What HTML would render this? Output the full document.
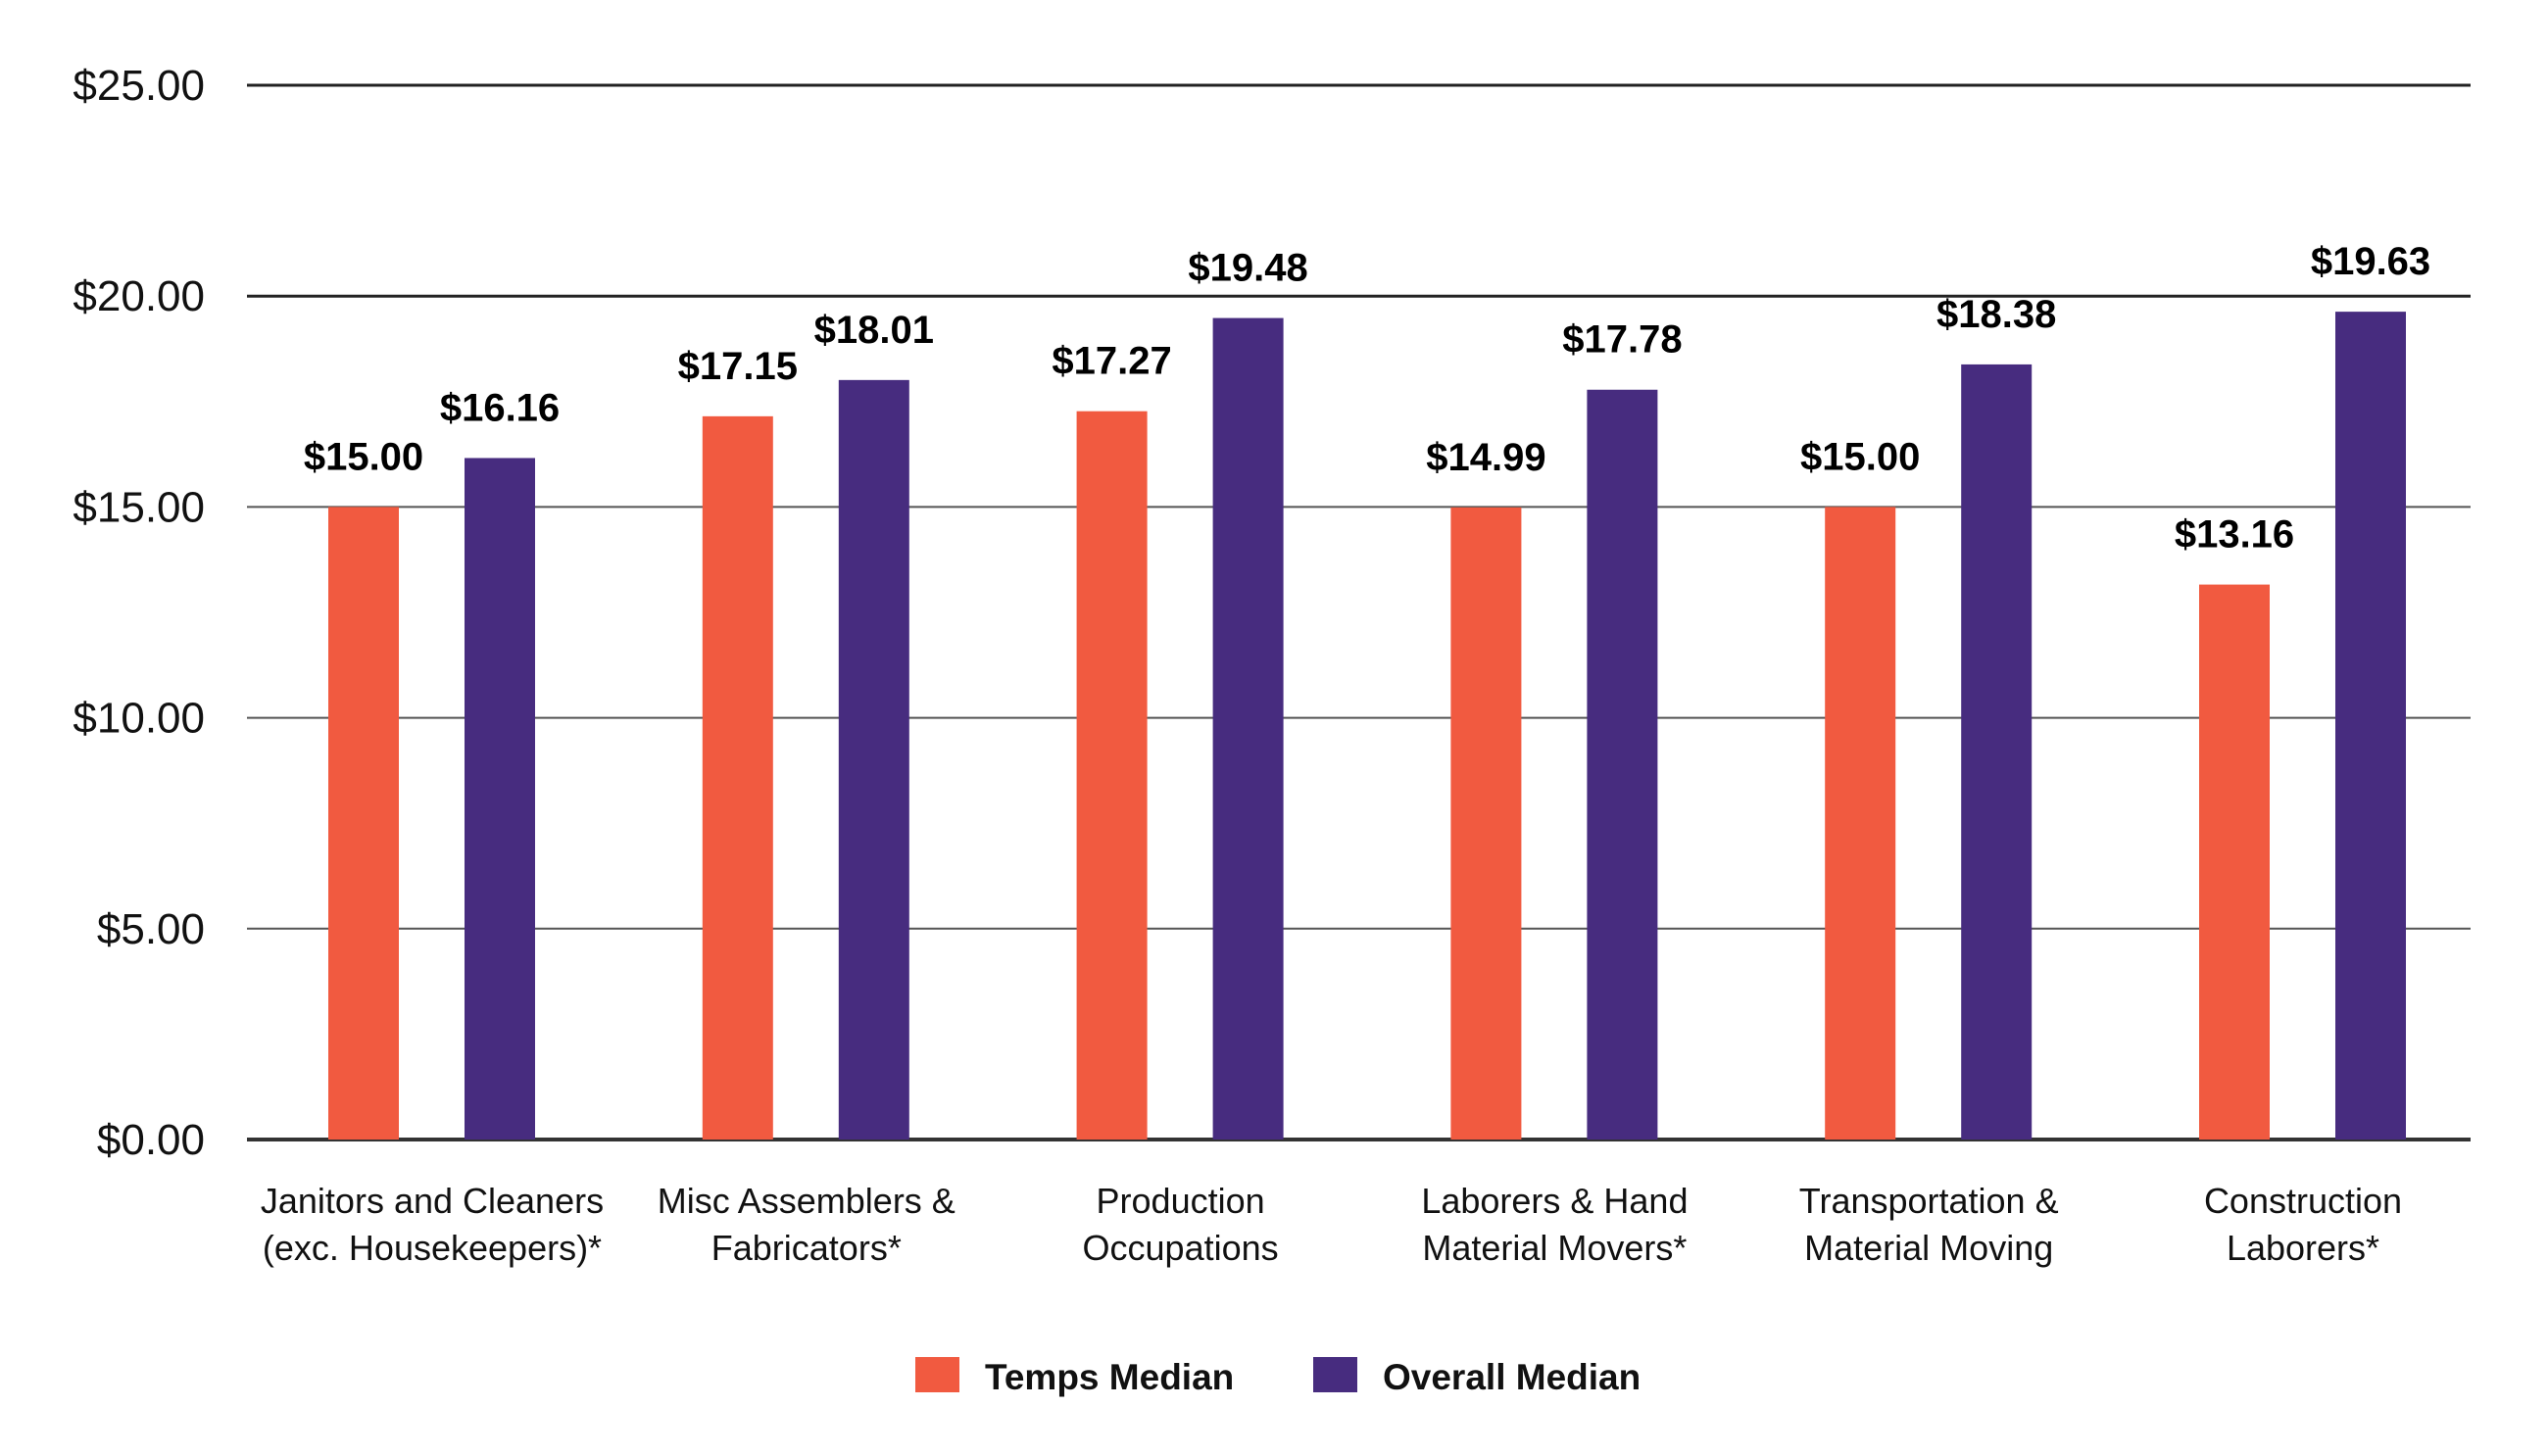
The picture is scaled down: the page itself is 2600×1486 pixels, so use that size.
<!DOCTYPE html>
<html><head><meta charset="utf-8"><style>
html,body{margin:0;padding:0;background:#fff;}
svg{display:block;font-family:"Liberation Sans",sans-serif;}
</style></head><body>
<svg id="chart" width="2600" height="1486" viewBox="0 0 2600 1486" xmlns="http://www.w3.org/2000/svg">
<g id="grid"></g>
<g id="yticks"></g>
<g id="bars"></g>
<g id="values"></g>
<g id="xlabels"></g>
<g>
  <rect x="934" y="1385" width="45" height="36" fill="#F15A40"/>
  <text x="1005" y="1418" font-size="37" font-weight="bold" fill="#111">Temps Median</text>
  <rect x="1340" y="1385" width="45" height="36" fill="#472C7F"/>
  <text x="1411" y="1418" font-size="37" font-weight="bold" fill="#111">Overall Median</text>
</g>
</svg>
<script>
const categoriesLine1 = ["Janitors and Cleaners","Misc Assemblers &","Production","Laborers & Hand","Transportation &","Construction"];
const categoriesLine2 = ["(exc. Housekeepers)*","Fabricators*","Occupations","Material Movers*","Material Moving","Laborers*"];
const tempsMedian = [15.00,17.15,17.27,14.99,15.00,13.16];
const overallMedian = [16.16,18.01,19.48,17.78,18.38,19.63];
const tickValues = [0,5,10,15,20,25];
const tickLabels = ["$0.00","$5.00","$10.00","$15.00","$20.00","$25.00"];

const NS="http://www.w3.org/2000/svg";
const x0=252, x1=2521, yBase=1163, yTop=87, yMax=25;
function y(v){return yBase-(v/yMax)*(yBase-yTop);}
function cx(i){return 441+i*381.8;}
function mk(tag,attrs,parent){const e=document.createElementNS(NS,tag);for(const k in attrs)e.setAttribute(k,attrs[k]);parent.appendChild(e);return e;}
const fmt=v=>"$"+v.toFixed(2);

const grid=document.getElementById('grid'), yt=document.getElementById('yticks');
tickValues.forEach((v,i)=>{
  const l=mk('line',{x1:x0,x2:x1,y1:y(v),y2:y(v),stroke:v===0?'#333':(v>=20?'#222':'#555'),'stroke-width':v===0?4:(v>=20?3:2)},grid);
  
  
  const t=mk('text',{x:209,y:y(v)+15,'text-anchor':'end','font-size':44,fill:'#111'},yt);
  t.textContent=tickLabels[i];
  
  
});
const bars=document.getElementById('bars'), vals=document.getElementById('values'), xl=document.getElementById('xlabels');
const bw=72;
tempsMedian.forEach((v,i)=>{
  const xa=cx(i)-106, xb=cx(i)+33;
  const b1=mk('rect',{x:xa,y:y(v),width:bw,height:yBase-y(v),fill:'#F15A40'},bars);
  
  
  const v2=overallMedian[i];
  const b2=mk('rect',{x:xb,y:y(v2),width:bw,height:yBase-y(v2),fill:'#472C7F'},bars);
  
  
  const t1=mk('text',{x:xa+bw/2,y:y(v)-38,'text-anchor':'middle','font-size':40,'font-weight':'bold',fill:'#000'},vals);
  t1.textContent=fmt(v);
  
  
  const t2=mk('text',{x:xb+bw/2,y:y(v2)-38,'text-anchor':'middle','font-size':40,'font-weight':'bold',fill:'#000'},vals);
  t2.textContent=fmt(v2);
  
  
  const c1=mk('text',{x:cx(i),y:1238,'text-anchor':'middle','font-size':36,fill:'#111'},xl);
  c1.textContent=categoriesLine1[i];
  
  
  const c2=mk('text',{x:cx(i),y:1286,'text-anchor':'middle','font-size':36,fill:'#111'},xl);
  c2.textContent=categoriesLine2[i];
  
  
});
</script>
</body></html>
